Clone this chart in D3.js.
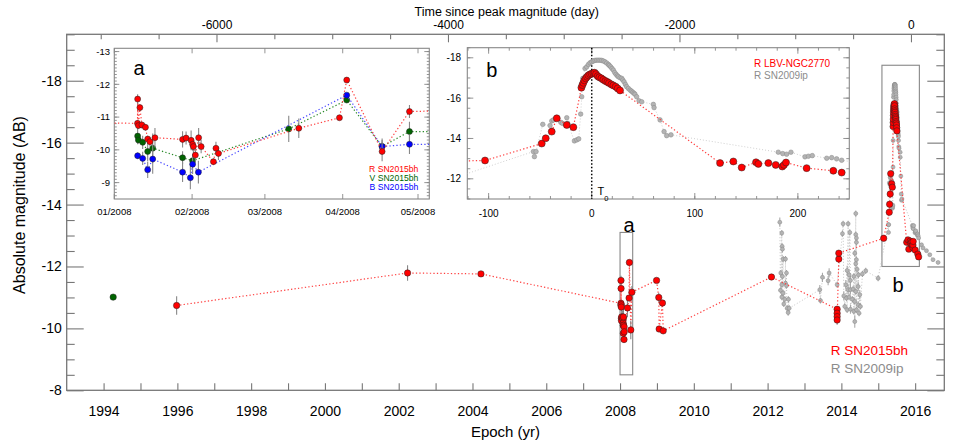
<!DOCTYPE html>
<html><head><meta charset="utf-8">
<script src="https://cdn.jsdelivr.net/npm/d3@7"></script>
<style>
body{margin:0;background:#fff}
text{font-family:"Liberation Sans",Arial,Helvetica,sans-serif}
</style>
</head><body>
<svg id="c" width="954" height="444"></svg>
<script>
// ---------------- DATA ----------------
const T0 = 2015.43;            // epoch of peak (yr)
const yearTicks = d3.range(1994, 2017);
const magTicksMain = [-8, -10, -12, -14, -16, -18];
const dayTicksTop = [-6000, -4000, -2000, 0];
const monthDays = [0, 31, 60, 91, 121];
const monthLabels = ["01/2008", "02/2008", "03/2008", "04/2008", "05/2008"];
const magTicksA = [-9, -10, -11, -12, -13];
const dayTicksB = [-100, 0, 100, 200];
const magTicksB = [-12, -14, -16, -18];

// V band point in 1994 (yr, mag)
const vMain = [[1994.26, -11.01, 0]];
// R SN2015bh, before 2008 (yr, mag, err)
const redPre = [[1995.98, -10.74, 0.3], [2002.24, -11.79, 0.25], [2004.23, -11.76, 0]];
// R SN2015bh, 2008 (day since 2008-01-01, mag, err)
const redA = [
 [9.25,-10.81,0.1],[9.3,-11.55,0.15],[9.6,-10.74,0.1],[10.2,-11.29,0.1],[11.0,-10.76,0.1],
 [12.4,-10.69,0.1],[13.3,-10.33,0.1],[14.2,-10.25,0.15],[16.2,-10.37,0.3],[27.2,-10.32,0.25],
 [28.6,-10.36,0.2],[30.6,-10.29,0.3],[31.2,-10.17,0.2],[31.5,-10.10,0.2],[32.3,-9.84,0.2],
 [33.6,-10.37,0.3],[34.6,-10.10,0.2],[39.5,-9.64,0.1],[40.5,-10.05,0.2],[41.5,-9.89,0.2],
 [73.5,-10.66,0.3],[89.7,-10.98,0.05],[92.6,-12.13,0.05],[106.7,-9.95,0.3],[117.6,-11.17,0.2]];
const vA = [
 [9.3,-10.42,0.25],[9.6,-10.30,0.1],[11.3,-10.23,0.2],[13.3,-9.95,0.3],[15.3,-10.05,0.45],
 [27.2,-9.76,0.2],[31.2,-9.67,0.2],[69.5,-10.64,0.4],[92.6,-11.52,0.05],[106.7,-10.10,0.25],
 [117.6,-10.56,0.3],[360,-10.50,0]];
const bA = [
 [9.3,-9.82,0.1],[11.3,-9.74,0.2],[13.3,-9.39,0.25],[15.3,-9.72,0.45],[27.2,-9.32,0.3],
 [30.3,-9.15,0.35],[31.2,-9.56,0.3],[33.5,-9.32,0.35],[92.6,-11.67,0.05],[106.7,-10.10,0.2],
 [117.6,-10.17,0.3],[360,-10.12,0]];
// R SN2015bh, 2009-2013 (yr, mag, err)
const redMid = [
 [2008.99,-11.55,0.05],[2009.05,-11.00,0.15],[2009.06,-9.98,0.1],[2009.15,-10.82,0.1],[2009.17,-9.92,0.1],
 [2012.105,-11.66,0],[2013.885,-10.62,0.1],[2013.885,-10.49,0.1],[2013.885,-10.38,0.1],[2013.885,-10.27,0.15],
 [2013.93,-12.24,0],[2013.93,-12.43,0]];
// R SN2015bh (LBV-NGC2770), days since peak
const redB = [
 [-103.5,-12.91],[-48.5,-13.75],[-44.6,-14.01],[-38.8,-14.34],[-33.9,-15.00],[-24.2,-14.67],[-17.8,-14.56],
 [-10.0,-16.52],[-9.05,-16.65],[-8.1,-16.76],[-7.1,-16.88],[-5.8,-16.98],[-4.5,-17.06],[-3.2,-17.13],
 [-1.6,-17.18],[0,-17.21],[1.6,-17.24],[2.9,-17.26],[4.2,-17.19],[5.8,-17.09],[7.4,-17.03],[9.4,-16.98],
 [11.3,-16.91],[13.3,-16.85],[15.2,-16.80],[16.8,-16.75],[19.1,-16.68],[21.0,-16.63],[23.3,-16.57],
 [25.2,-16.48],[27.5,-16.38],
 [124.5,-12.78],[137.4,-12.86],[145.5,-12.56],[159.4,-12.82],[161.7,-12.74],[171.4,-12.78],[178.5,-12.69],
 [184.9,-12.61],[186.5,-12.69],[188.5,-12.81],[208.5,-12.53],[234.4,-12.40],[242.5,-12.31]];
// R SN2009ip (shifted), main panel (yr, mag, err)
const grayMain = [
 [2012.331,-13.43,0.15],[2012.385,-13.08,0.1],[2012.394,-12.65,0.1],[2012.403,-12.56,0.1],[2012.421,-12.24,0.1],
 [2012.485,-12.24,0.1],[2012.358,-11.79,0.1],[2012.403,-11.68,0.1],[2012.512,-11.79,0.1],[2012.385,-11.41,0.1],
 [2012.485,-11.46,0.1],[2012.512,-11.38,0.1],[2012.349,-11.23,0.1],[2012.421,-11.14,0.1],[2012.385,-11.01,0.1],
 [2012.467,-10.94,0.1],[2012.566,-10.94,0.1],[2012.439,-10.79,0.1],[2012.530,-10.65,0.1],[2012.584,-10.65,0.1],
 [2012.557,-10.51,0.1],
 [2013.415,-11.25,0.15],[2013.433,-10.90,0.1],[2013.487,-11.65,0.15],[2013.641,-11.54,0.15],[2013.668,-11.79,0.15],
 [2013.885,-11.41,0.1],[2014.029,-13.06,0.1],[2014.047,-13.38,0.1],[2014.183,-13.38,0.1],[2014.228,-13.10,0.1],
 [2014.390,-13.71,0.1],[2014.390,-13.03,0.1],[2014.408,-12.92,0.1],[2014.408,-12.78,0.1],[2014.363,-12.43,0.1],
 [2014.408,-12.22,0.1],[2014.390,-12.09,0.1],[2014.426,-11.91,0.1],[2014.156,-11.87,0.15],[2014.210,-11.73,0.15],
 [2014.246,-11.55,0.15],[2014.336,-11.68,0.1],[2014.463,-11.73,0.1],[2014.571,-11.76,0.1],[2014.660,-11.86,0.1],
 [2014.996,-11.62,0.1],[2014.120,-11.41,0.15],[2014.183,-11.25,0.15],[2014.246,-11.25,0.15],[2014.318,-11.27,0.1],
 [2014.390,-11.19,0.1],[2014.454,-11.35,0.15],[2014.499,-11.09,0.15],[2014.065,-11.05,0.15],[2014.138,-10.98,0.1],
 [2014.210,-11.01,0.1],[2014.300,-10.94,0.1],[2014.363,-10.87,0.1],[2014.454,-10.76,0.1],[2014.517,-10.71,0.1],
 [2014.092,-10.71,0.1],[2014.156,-10.60,0.1],[2014.246,-10.62,0.15],[2014.336,-10.55,0.1],[2014.409,-10.60,0.1],
 [2014.480,-10.49,0.1],[2014.363,-10.22,0.2]];
// R SN2009ip (shifted), days since peak
const grayB = [
 [-56.6,-13.35],[-55.6,-13.10],[-54.0,-13.35],[-47.5,-14.70],[-40.4,-14.64],[-38.8,-14.87],[-37.2,-14.92],
 [-30.0,-14.80],[-28.5,-14.75],[-24.2,-15.03],[-23.3,-14.75],[-16.8,-13.88],[-14.5,-13.93],[-12.6,-13.98],
 [-10.7,-15.21],[-9.7,-16.07],[-8.7,-16.98],[-6.5,-17.47],[-4.85,-17.55],[-3.2,-17.67],[-1.6,-17.75],
 [0,-17.80],[1.6,-17.84],[3.2,-17.87],[4.85,-17.88],[6.5,-17.88],[8.1,-17.88],[9.7,-17.87],[11.3,-17.84],
 [12.9,-17.80],[14.5,-17.74],[16.2,-17.67],[17.1,-17.62],[18.4,-17.55],[19.7,-17.47],[21.0,-17.39],
 [22.3,-17.27],[23.6,-17.18],[24.9,-17.11],[25.9,-17.06],[27.5,-17.01],[29.1,-16.98],[30.1,-16.90],
 [31.4,-16.81],[32.7,-16.68],[33.9,-16.57],[35.6,-16.48],[37.2,-16.40],[38.5,-16.35],[39.8,-16.29],
 [41.1,-16.24],[42.0,-16.19],[43.6,-16.07],[45.9,-15.87],[48.5,-15.82],[59.8,-15.69],[60.5,-15.53],
 [66.3,-14.92],[70.2,-14.34],[72.7,-14.14],[76.9,-14.18],
 [181,-13.32],[185.3,-13.25],[189.1,-13.22],[193.3,-13.32],[206.9,-13.09],[210.2,-13.12],[214,-13.15],
 [228,-13.02],[232.8,-13.05],[237.6,-12.99],[242.5,-12.92],[271,-12.70],[286,-12.60],[320,-12.51],
 [353,-12.38],[385,-12.22],[435,-12.13]];

// ---------------- DERIVED SERIES ----------------
const dayToYr2008 = d => 2008 + d / 366;
const yrToDay2008 = y => (y - 2008) * 366;
const dayToYrT0 = d => T0 + d / 365.25;
const yrToDayT0 = y => (y - T0) * 365.25;

const redAll = [
  ...redPre,
  ...redA.map(p => [dayToYr2008(p[0]), p[1], p[2]]),
  ...redMid,
  ...redB.map(p => [dayToYrT0(p[0]), p[1], 0])
];
const grayAll = [...grayMain, ...grayB.map(p => [dayToYrT0(p[0]), p[1], 0])]
  .sort((a, b) => a[0] - b[0]);

// ---------------- DRAWING ----------------
const svg = d3.select("#c");
const FRAME = "#777";
const RED = "#ff0000", GREEN = "#006400", BLUE = "#0000ff", GRAY = "#8c8c8c";

const x = d3.scaleLinear().domain([1993, 2016.79]).range([66.7, 944.3]);
const y = d3.scaleLinear().domain([-8, -19.5]).range([390.3, 34.3]);
const xTop = d3.scaleLinear().domain([-7294, 288]).range([66.7, 944.3]);

function series(g, data, xs, ys, o) {
  const line = d3.line().x(d => xs(d[0])).y(d => ys(d[1]));
  if (o.line) g.append("path").attr("d", line(data)).attr("fill", "none")
    .attr("stroke", o.line).attr("stroke-width", o.lw || 1.2).attr("stroke-dasharray", o.dash || "1.3 2.2");
  g.selectAll(null).data(data.filter(d => d[2] > 0)).join("line")
    .attr("x1", d => xs(d[0])).attr("x2", d => xs(d[0]))
    .attr("y1", d => ys(d[1] - d[2])).attr("y2", d => ys(d[1] + d[2]))
    .attr("stroke", o.err || "#888").attr("stroke-width", 1.1);
  g.selectAll(null).data(data).join("circle")
    .attr("cx", d => xs(d[0])).attr("cy", d => ys(d[1])).attr("r", o.r)
    .attr("fill", o.fill).attr("stroke", o.stroke || "#222").attr("stroke-width", o.sw || 0.5);
}

// main frame
const [X0, X1] = x.range(), [Y0, Y1] = y.range();
svg.append("rect").attr("x", X0).attr("y", Y1).attr("width", X1 - X0).attr("height", Y0 - Y1)
  .attr("fill", "none").attr("stroke", FRAME).attr("stroke-width", 1.3);

// bottom axis
const gb = svg.append("g").attr("transform", `translate(0,${Y0})`)
  .call(d3.axisBottom(x).tickValues(yearTicks).tickSize(-7).tickPadding(16)
    .tickFormat(d => d % 2 === 0 ? d : ""));
// top axis
const gt = svg.append("g").attr("transform", `translate(0,${Y1})`)
  .call(d3.axisTop(xTop).tickValues(d3.range(-7000, 1, 500)).tickSize(-5).tickPadding(5)
    .tickFormat(d => dayTicksTop.includes(d) ? d : ""));
gt.selectAll(".tick line").attr("y2", d => dayTicksTop.includes(d) ? 8 : 5);
// left / right axes
const minorMain = d3.range(-8, -19.51, -0.5);
const gl = svg.append("g").attr("transform", `translate(${X0},0)`)
  .call(d3.axisLeft(y).tickValues(minorMain).tickSize(-8).tickPadding(5)
    .tickFormat(d => magTicksMain.includes(d) ? d : ""));
gl.selectAll(".tick line").attr("x2", d => magTicksMain.includes(d) ? 17 : 8);
const gr = svg.append("g").attr("transform", `translate(${X1},0)`)
  .call(d3.axisRight(y).tickValues(minorMain).tickSize(-8).tickFormat(""));
gr.selectAll(".tick line").attr("x2", d => magTicksMain.includes(d) ? -17 : -8);
[gb, gt, gl, gr].forEach(g => {
  g.select(".domain").remove();
  g.selectAll(".tick line").attr("stroke", FRAME).attr("stroke-width", 1.1);
  g.selectAll("text").attr("fill", "#000").style("font-family", '"Liberation Sans",Arial,sans-serif');
});
gb.selectAll("text").style("font-size", "14px");
gl.selectAll("text").style("font-size", "14px");
gt.selectAll("text").style("font-size", "12px");

svg.append("text").attr("x", 506.7).attr("y", 16).attr("text-anchor", "middle")
  .style("font-size", "12.5px").text("Time since peak magnitude (day)");
svg.append("text").attr("x", (X0 + X1) / 2).attr("y", 437).attr("text-anchor", "middle")
  .style("font-size", "15px").text("Epoch (yr)");
svg.append("text").attr("transform", "translate(25,205) rotate(-90)").attr("text-anchor", "middle")
  .style("font-size", "16px").text("Absolute magnitude (AB)");

// boxes a and b in main panel
const boxStyle = s => s.attr("fill", "none").attr("stroke", "#888").attr("stroke-width", 1.1);
svg.append("rect").call(boxStyle)
  .attr("x", x(dayToYr2008(0))).attr("y", y(-13.1))
  .attr("width", x(dayToYr2008(125.5)) - x(dayToYr2008(0))).attr("height", y(-8.5) - y(-13.1));
svg.append("rect").call(boxStyle)
  .attr("x", x(dayToYrT0(-120.7))).attr("y", y(-18.5))
  .attr("width", x(dayToYrT0(249.9)) - x(dayToYrT0(-120.7))).attr("height", y(-12) - y(-18.5));
svg.append("text").attr("x", 629).attr("y", 232).attr("text-anchor", "middle").style("font-size", "20px").text("a");
svg.append("text").attr("x", 898).attr("y", 292).attr("text-anchor", "middle").style("font-size", "20px").text("b");

// main data
svg.append("clipPath").attr("id", "cm").append("rect")
  .attr("x", X0).attr("y", Y1).attr("width", X1 - X0).attr("height", Y0 - Y1);
const gm = svg.append("g").attr("clip-path", "url(#cm)");
series(gm, grayAll, x, y, {line: "#c4c4c4", lw: 1, dash: "1 2", r: 2, fill: "#b4b4b4", stroke: "#888", sw: 0.5, err: "#aaa"});
series(gm, redAll, x, y, {line: "#ff4040", r: 3.2, fill: RED});
series(gm, vMain, x, y, {r: 3.2, fill: GREEN});

// legend main
svg.append("text").attr("x", 830.7).attr("y", 355).attr("fill", RED).style("font-size", "13.5px").text("R SN2015bh");
svg.append("text").attr("x", 830.7).attr("y", 372.5).attr("fill", GRAY).style("font-size", "13.5px").text("R SN2009ip");

// ---------------- INSET A ----------------
const xA = d3.scaleLinear().domain([0, 125.5]).range([114.3, 429.3]);
const yA = d3.scaleLinear().domain([-8.5, -13.1]).range([199, 48.3]);
const gA = svg.append("g");
gA.append("rect").attr("x", 114.3).attr("y", 48.3).attr("width", 315).attr("height", 150.7)
  .attr("fill", "#fff").attr("stroke", "#888").attr("stroke-width", 1.1);
function insetTicks(g, xs, ys, xMaj, xMin, yMaj, yMin, L, l) {
  const [a0, a1] = xs.range(), [b0, b1] = ys.range();
  const tk = [];
  xMin.forEach(v => { tk.push([xs(v), b0, xs(v), b0 - l], [xs(v), b1, xs(v), b1 + l]); });
  xMaj.forEach(v => { tk.push([xs(v), b0, xs(v), b0 - L], [xs(v), b1, xs(v), b1 + L]); });
  yMin.forEach(v => { tk.push([a0, ys(v), a0 + l, ys(v)], [a1, ys(v), a1 - l, ys(v)]); });
  yMaj.forEach(v => { tk.push([a0, ys(v), a0 + L, ys(v)], [a1, ys(v), a1 - L, ys(v)]); });
  g.selectAll(null).data(tk).join("line")
    .attr("x1", d => d[0]).attr("y1", d => d[1]).attr("x2", d => d[2]).attr("y2", d => d[3])
    .attr("stroke", "#888").attr("stroke-width", 0.9);
}
insetTicks(gA, xA, yA, monthDays, [], magTicksA, d3.range(-8.6, -13.05, -0.1).map(v => +v.toFixed(1)), 5, 2.5);
gA.selectAll(null).data(magTicksA).join("text").attr("x", 110).attr("y", d => yA(d) + 3.4)
  .attr("text-anchor", "end").style("font-size", "9.5px").text(d => d);
gA.selectAll(null).data(monthDays).join("text").attr("x", d => xA(d)).attr("y", 215)
  .attr("text-anchor", "middle").style("font-size", "9.5px").text((d, i) => monthLabels[i]);
svg.append("clipPath").attr("id", "ca").append("rect").attr("x", 114.3).attr("y", 48.3).attr("width", 315).attr("height", 150.7);
const gAd = gA.append("g").attr("clip-path", "url(#ca)");
const redInA = redAll.map(p => [yrToDay2008(p[0]), p[1], p[2]]);
series(gAd, vA, xA, yA, {line: "#2a8a2a", r: 3, fill: GREEN});
series(gAd, bA, xA, yA, {line: "#4a4aff", r: 3, fill: BLUE});
series(gAd, redInA, xA, yA, {line: "#ff4040", r: 3, fill: RED});
gA.append("text").attr("x", 139).attr("y", 75).attr("text-anchor", "middle").style("font-size", "20px").text("a");
[["R SN2015bh", RED, 171.8], ["V SN2015bh", GREEN, 181.1], ["B SN2015bh", BLUE, 190.4]].forEach(t =>
  gA.append("text").attr("x", 418.3).attr("y", t[2]).attr("text-anchor", "end").attr("fill", t[1])
    .style("font-size", "8.6px").text(t[0]));

// ---------------- INSET B ----------------
const xB = d3.scaleLinear().domain([-120.7, 249.9]).range([467.3, 849.3]);
const yB = d3.scaleLinear().domain([-11, -18.5]).range([199, 47.7]);
const gB = svg.append("g");
gB.append("rect").attr("x", 467.3).attr("y", 47.7).attr("width", 382).attr("height", 151.3)
  .attr("fill", "#fff").attr("stroke", "#888").attr("stroke-width", 1.1);
insetTicks(gB, xB, yB, dayTicksB, d3.range(-120, 250, 20), magTicksB, d3.range(-11, -18.51, -0.5), 6, 3);
gB.selectAll(null).data(magTicksB).join("text").attr("x", 461).attr("y", d => yB(d) + 3.5)
  .attr("text-anchor", "end").style("font-size", "10px").text(d => d);
gB.selectAll(null).data(dayTicksB).join("text").attr("x", d => xB(d)).attr("y", 217)
  .attr("text-anchor", "middle").style("font-size", "10px").text(d => d);
svg.append("clipPath").attr("id", "cb").append("rect").attr("x", 467.3).attr("y", 47.7).attr("width", 382).attr("height", 151.3);
const gBd = gB.append("g").attr("clip-path", "url(#cb)");
gBd.append("line").attr("x1", xB(0)).attr("x2", xB(0)).attr("y1", 47.7).attr("y2", 199)
  .attr("stroke", "#000").attr("stroke-width", 1.5).attr("stroke-dasharray", "1.5 2");
const grayInB = grayAll.map(p => [yrToDayT0(p[0]), p[1], 0]);
const redInB = redAll.map(p => [yrToDayT0(p[0]), p[1], p[2]]);
series(gBd, grayInB, xB, yB, {line: "#cfcfcf", lw: 1, dash: "1 2", r: 2.3, fill: "#b4b4b4", stroke: "#888", sw: 0.5});
series(gBd, redInB, xB, yB, {line: "#ff4040", r: 3.5, fill: RED});
gB.append("text").attr("x", 491.7).attr("y", 77).attr("text-anchor", "middle").style("font-size", "20px").text("b");
gB.append("text").attr("x", 597.5).attr("y", 194.5).style("font-size", "11px").text("T");
gB.append("text").attr("x", 604.3).attr("y", 200.5).style("font-size", "7.5px").text("0");
gB.append("text").attr("x", 754).attr("y", 66.7).attr("fill", RED).style("font-size", "10px").text("R LBV-NGC2770");
gB.append("text").attr("x", 754).attr("y", 79).attr("fill", GRAY).style("font-size", "10px").text("R SN2009ip");
</script>
</body></html>
